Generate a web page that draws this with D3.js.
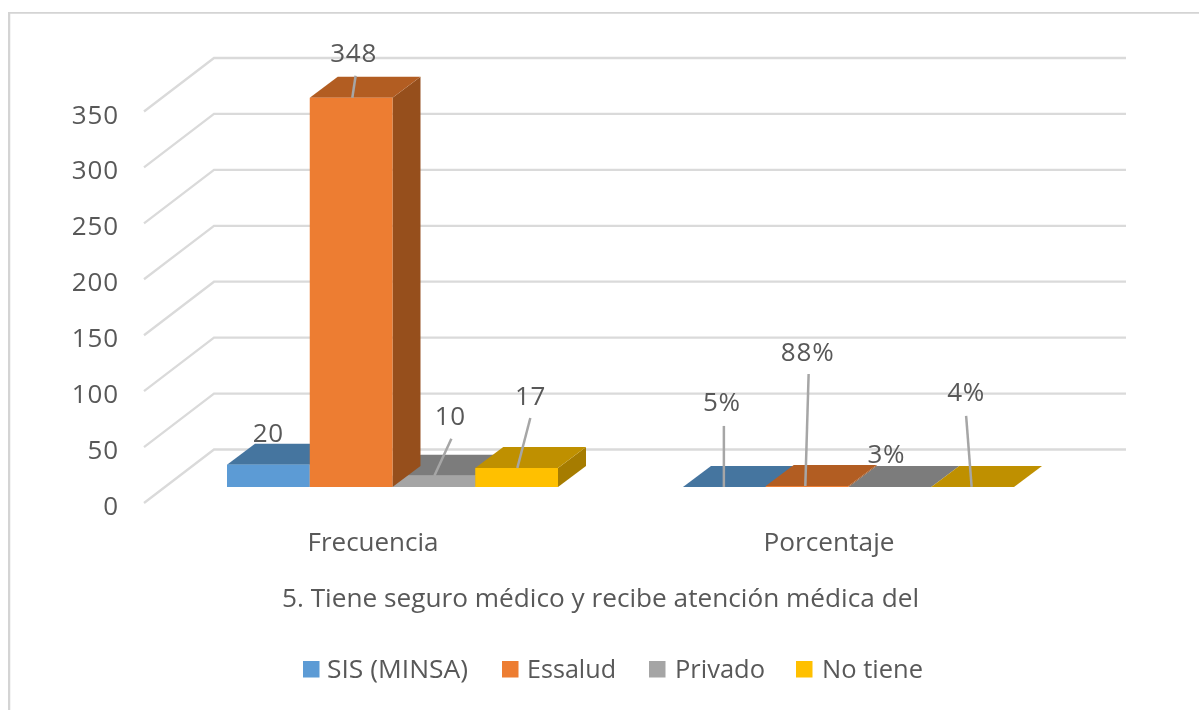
<!DOCTYPE html>
<html><head><meta charset="utf-8">
<style>html,body{margin:0;background:#fff}svg{display:block}text{font-family:"Open Sans",sans-serif;fill:#595959}</style>
<script src="https://cdnjs.cloudflare.com/ajax/libs/d3/7.8.5/d3.min.js"></script>
</head><body><svg id="c" width="1199" height="710"></svg>
<script>
const categories = ["Frecuencia", "Porcentaje"];
const seriesNames = ["SIS (MINSA)", "Essalud", "Privado", "No tiene"];
const sisValues = [20, 0.05];
const essaludValues = [348, 0.88];
const privadoValues = [10, 0.03];
const noTieneValues = [17, 0.04];
const valueLabels = [["20","5%"],["348","88%"],["10","3%"],["17","4%"]];
const tickValues = [0, 50, 100, 150, 200, 250, 300, 350];
const axisTitle = "5. Tiene seguro médico y recibe atención médica del";

const seriesValues = [sisValues, essaludValues, privadoValues, noTieneValues];
const colors = [
  {front:"#5b9bd5", top:"#44749f", side:"#3d6a92"},
  {front:"#ed7d31", top:"#b25d24", side:"#96501e"},
  {front:"#a5a5a5", top:"#7c7c7c", side:"#6b6b6b"},
  {front:"#ffc000", top:"#bf9000", side:"#a67c00"}
];
// label placement relative to the bar's front-top centre:
// [label dx, baseline dy, leader start dx, leader end dx, leader end dy] (null = no leader)
const labelLayout = [
  [[0,-22.6,null],[-2.5,-76,-0.5,-0.5,-61]],
  [[2.5,-36,1.2,4.5,-22],[0.5,-125,-1.8,1.5,-112]],
  [[16.5,-50.8,0.5,17.5,-37],[-3.5,-24,null]],
  [[14,-63,0.7,13.7,-50],[-6.5,-86,-1,-6.5,-71]]
];

const svg = d3.select("#c");
svg.append("defs").append("filter").attr("id","soft").attr("x","0").attr("y","0").attr("width","1").attr("height","1")
   .append("feGaussianBlur").attr("stdDeviation",0.5);
const root = svg.append("g").attr("filter","url(#soft)");

root.append("path").attr("d","M8.5 710V12H1199").attr("fill","none").attr("stroke","#d4d4d4").attr("stroke-width",3.5);

const backY = d3.scaleLinear().domain([0,350]).range([449.5,58]);
const frontY = d3.scaleLinear().domain([0,350]).range([503,111.5]);
const barY = d3.scaleLinear().domain([0,350]).range([487,95.5]);
const xCat = d3.scaleBand().domain(categories).range([144,1056]);
const xSer = d3.scaleBand().domain(seriesNames).range([83,414]);
const depth = {x:28, y:-21};

root.append("g").selectAll("path").data(tickValues).join("path")
  .attr("d", d => `M144 ${frontY(d)}L214 ${backY(d)}H1126`)
  .attr("fill","none").attr("stroke","#dadada").attr("stroke-width",2.3);

const yAxis = root.append("g").attr("transform","translate(119,0)")
  .call(d3.axisLeft(frontY).tickValues(tickValues).tickSize(0).tickPadding(0));
yAxis.select(".domain").remove();
yAxis.selectAll("text").attr("dy","11.5px").style("font-size","26px").style("letter-spacing","0.9px")
  .style("font-family",'"Open Sans",sans-serif').attr("fill","#595959");

// painter's order: orange drawn last so its side covers the neighbouring top face
const bars = root.append("g");
categories.forEach((cat, ci) => {
  [0,2,3,1].forEach(si => {
    const s = seriesNames[si];
    const v = seriesValues[si][ci];
    const x0 = xCat(cat) + xSer(s), w = xSer.bandwidth(), y0 = barY(0), y1 = barY(v);
    const c = colors[si], g = bars.append("g");
    g.append("path").attr("fill",c.side)
      .attr("d",`M${x0+w} ${y1}l${depth.x} ${depth.y}V${y0+depth.y}L${x0+w} ${y0}Z`);
    g.append("path").attr("fill",c.top)
      .attr("d",`M${x0} ${y1}l${depth.x} ${depth.y}h${w}l${-depth.x} ${-depth.y}Z`);
    g.append("rect").attr("x",x0).attr("y",y1).attr("width",w).attr("height",y0-y1).attr("fill",c.front);
  });
});

const labels = root.append("g");
categories.forEach((cat, ci) => {
  seriesNames.forEach((s, si) => {
    const v = seriesValues[si][ci];
    const cx = xCat(cat) + xSer(s) + xSer.bandwidth()/2, cy = barY(v);
    const l = labelLayout[si][ci];
    if (l[2] !== null) labels.append("line")
      .attr("x1",cx+l[2]).attr("y1",cy).attr("x2",cx+l[3]).attr("y2",cy+l[4])
      .attr("stroke","#a6a6a6").attr("stroke-width",2.5);
    labels.append("text").attr("x",cx+l[0]).attr("y",cy+l[1]).attr("text-anchor","middle")
      .style("font-size","26px").style("letter-spacing","0.8px")
      .text(valueLabels[si][ci]);
  });
});

root.append("g").selectAll("text").data(categories).join("text")
  .attr("x", d => xCat(d)+xCat.bandwidth()/2 + 1).attr("y",550.5).attr("text-anchor","middle")
  .style("font-size","26px").text(d => d)
  .attr("textLength",131).attr("lengthAdjust","spacingAndGlyphs");

root.append("text").attr("x",600.5).attr("y",607).attr("text-anchor","middle")
  .style("font-size","26px").text(axisTitle)
  .attr("textLength",637).attr("lengthAdjust","spacingAndGlyphs");

const legendSwatchX = [303,502,649,796];
const legendTextX = [327,527,675,822];
const legendTextWidths = [141,89,90,101];
const lg = root.append("g").selectAll("g").data(seriesNames).join("g");
lg.append("rect").attr("x",(d,i)=>legendSwatchX[i]).attr("y",661).attr("width",16.5).attr("height",16.5).attr("fill",(d,i)=>colors[i].front);
lg.append("text").attr("x",(d,i)=>legendTextX[i]).attr("y",678).style("font-size","26px").text(d=>d)
  .attr("textLength",(d,i)=>legendTextWidths[i]).attr("lengthAdjust","spacingAndGlyphs");
</script></body></html>
